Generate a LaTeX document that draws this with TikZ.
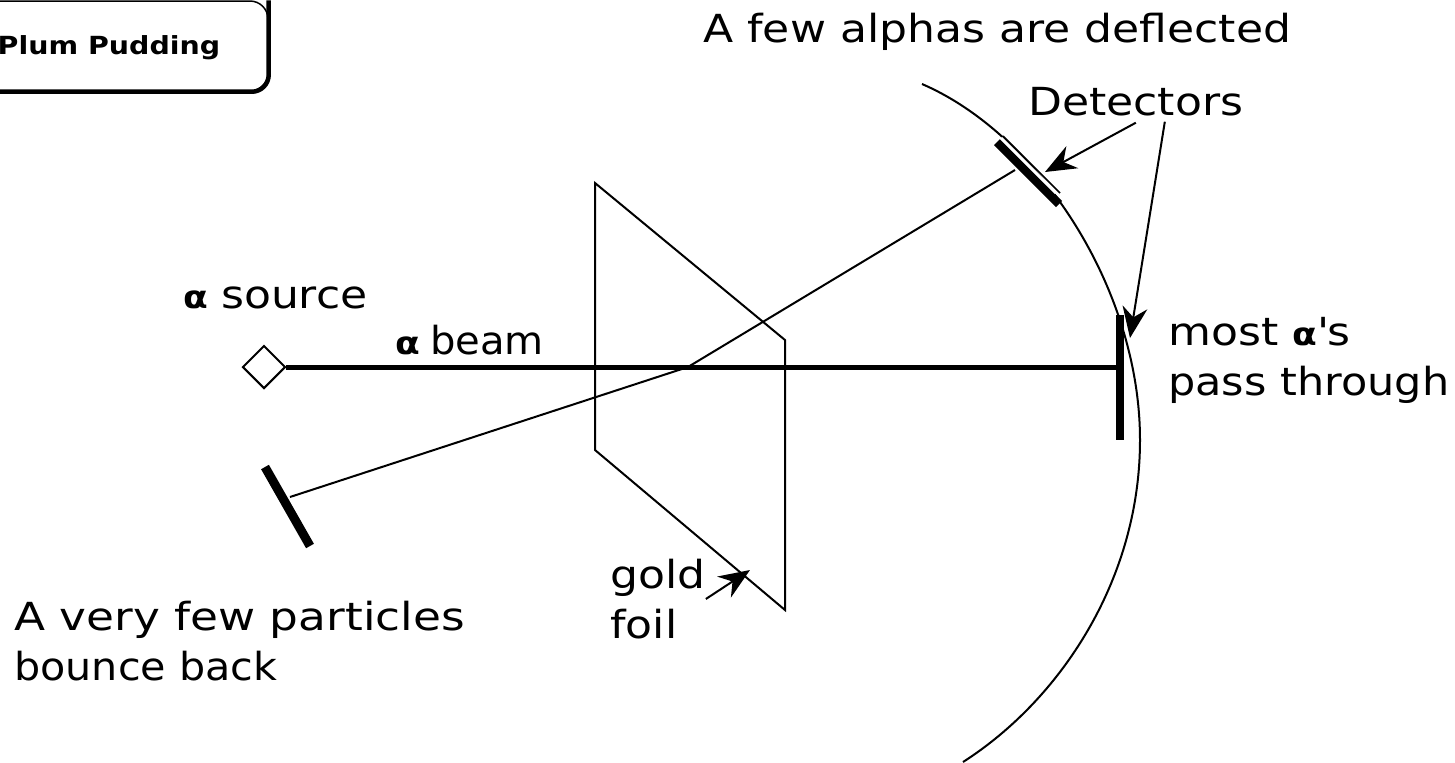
\documentclass[tikz,border=0pt]{standalone}
\usepackage{graphicx}
\usepackage{fontspec}
\setmainfont[FakeStretch=1.14]{DejaVu Sans}
\usetikzlibrary{arrows.meta, positioning, shapes.geometric}

\newcommand{\alphasym}{{\fontsize{18}{18}\selectfont\bfseries α}}

\tikzset{
  lbl/.style={font=\fontsize{22}{28.45}\selectfont, anchor=west, align=left, inner sep=0pt},
  thinline/.style={line width=0.04cm},
  detector/.style={line width=0.15cm},
  pointer/.style={line width=0.04cm, ->}
}

\begin{document}
\begin{tikzpicture}[
    x=0.02cm, y=-0.02cm,
    >={Stealth[length=0.62cm, width=0.5cm]}
  ]
  \useasboundingbox (0,0) rectangle (1455,762);

  % Model button
  \node[draw, line width=0.03cm, rounded corners=0.36cm, minimum width=6.4cm, minimum height=1.8cm,
    inner sep=0pt] (plum) at (108,46) {};
  \draw[line width=0.09cm, rounded corners=0.34cm] (plum.north east) -- (plum.south east) -- (plum.south west);
  \node[inner sep=0pt, font=\fontsize{14.2}{20}\selectfont\bfseries] (plumlbl) at (109,48) {Plum Pudding};

  % Foil
  \coordinate (foilA) at (595,183);
  \coordinate (foilB) at (785,340);
  \coordinate (foilC) at (785,610);
  \coordinate (foilD) at (595,450);
  \draw[thinline] (foilA) -- (foilB) -- (foilC) -- (foilD) -- cycle;

  % Detector sphere
  \coordinate (sphereA) at (922,84);
  \coordinate (sphereB) at (1140,440);
  \coordinate (sphereC) at (963,762);
  \draw[thinline] (sphereA) .. controls (1040,135) and (1140,290) .. (sphereB)
    .. controls (1140,580) and (1060,700) .. (sphereC);

  % Source and paths
  \node[draw, diamond, thinline, minimum size=0.86cm, inner sep=0pt] (src) at (264,367) {};
  \coordinate (hit) at (688,367);
  \coordinate (detmidtop) at (1120,315);
  \coordinate (detmidbot) at (1120,440);
  \coordinate (detmid) at (1120,367);
  \coordinate (dettoptop) at (997,142);
  \coordinate (dettopbot) at (1059,204);
  \coordinate (dettopin) at (1015,170);
  \coordinate (detbacktop) at (265,467);
  \coordinate (detbackbot) at (310,546);
  \coordinate (detbackin) at (290,497);

  \draw[line width=0.1cm] (src.east) -- (detmid);
  \draw[thinline] (hit) -- (dettopin);
  \draw[thinline] (hit) -- (detbackin);

  % Detectors
  \draw[detector] (detmidtop) -- (detmidbot);
  \draw[line width=0.17cm] (dettoptop) -- (dettopbot);
  \draw[white, line width=0.06cm] (1001,138) -- (1056,193);
  \draw[line width=0.03cm] (1003,136) -- (1060,193);
  \draw[line width=0.18cm] (detbacktop) -- (detbackbot);

  % Labels
  \node[lbl] (deflbl) at (703,32) {A few alphas are deflected};
  \node[lbl] (detlbl) at (1028,102) {Detectors};
  \node[lbl] (srclbl) at (183,298) {\alphasym\hspace{0.26cm}source};
  \node[lbl] (beamlbl) at (395,340) {\alphasym\hspace{0.2cm}\scalebox{0.91}[1]{beam}};
  \node[lbl] (mostlbl) at (1168,360) {most \alphasym\textquotesingle s\\\scalebox{0.975}[1]{pass through}};
  \node[lbl] (backlbl) at (14,641) {\scalebox{1.03}[1]{A very few particles}\\\scalebox{0.936}[1]{bounce back}};
  \node[lbl] (foillbl) at (610,599) {gold\\foil};

  % Pointers
  \coordinate (ptrtop) at (1045,172);
  \coordinate (ptrmid) at (1130,338);
  \coordinate (ptrfoil) at (750,570);
  \draw[pointer] ([yshift=-0.12cm]detlbl.south) -- (ptrtop);
  \draw[pointer] ([xshift=0.58cm, yshift=-0.1cm]detlbl.south) -- (ptrmid);
  \draw[pointer] (foillbl.east) -- (ptrfoil);

\end{tikzpicture}
\end{document}
